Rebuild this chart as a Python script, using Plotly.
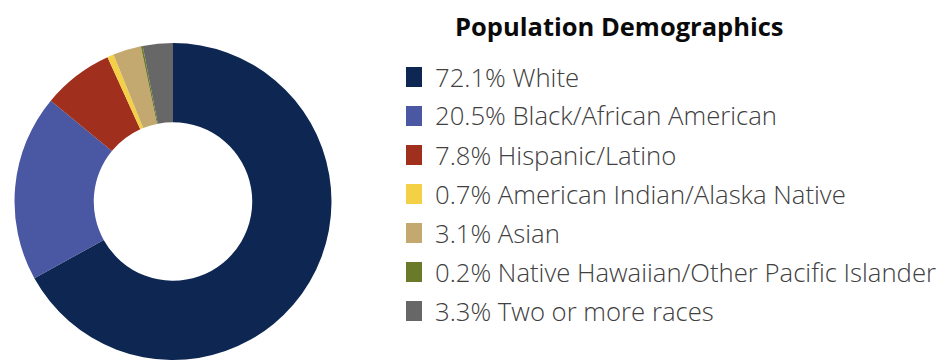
import plotly.graph_objects as go

# Population share by group (percent)
groups = [
    "White",
    "Black/African American",
    "Hispanic/Latino",
    "American Indian/Alaska Native",
    "Asian",
    "Native Hawaiian/Other Pacific Islander",
    "Two or more races",
]
shares = [72.1, 20.5, 7.8, 0.7, 3.1, 0.2, 3.3]
colors = ["#0d2752", "#4a57a2", "#a02f1d", "#f3d046", "#c3a96f", "#6b7a2a", "#676767"]
title_text = "Population Demographics"

W, H = 945, 360
FONT = "Open Sans, Noto Sans, sans-serif"

fig = go.Figure()
fig.add_trace(go.Pie(
    labels=groups,
    values=shares,
    sort=False,
    direction="clockwise",
    rotation=0,
    hole=0.5,
    textinfo="none",
    marker=dict(colors=colors, line=dict(width=0)),
    domain=dict(x=[14.5 / W, 331.5 / W], y=[0, (H - 43) / H]),
    showlegend=False,
))

# Legend drawn as swatches + labels on the right
shapes = []
annotations = [dict(
    text=f"<b>{title_text}</b>", x=619 / W, y=1 - 26 / H, xref="paper", yref="paper",
    xanchor="center", yanchor="middle", showarrow=False,
    font=dict(family=FONT, size=25.5, color="#0a0a0a"),
)]
row0, step = 77, 39
for i, (g, v, c) in enumerate(zip(groups, shares, colors)):
    yc = row0 + i * step
    shapes.append(dict(
        type="rect", xref="paper", yref="paper",
        x0=406 / W, x1=422 / W, y0=1 - (yc + 10) / H, y1=1 - (yc - 10) / H,
        fillcolor=c, line=dict(width=0),
    ))
    annotations.append(dict(
        text=f"{v}% {g}", x=433 / W, y=1 - yc / H, xref="paper", yref="paper",
        xanchor="left", yanchor="middle", showarrow=False,
        font=dict(family=FONT, size=25.7, color="#404040", weight=300),
    ))

fig.update_layout(
    width=W, height=H,
    margin=dict(l=0, r=0, t=0, b=0),
    paper_bgcolor="white", plot_bgcolor="white",
    shapes=shapes, annotations=annotations,
)

fig.write_html("out.html")
